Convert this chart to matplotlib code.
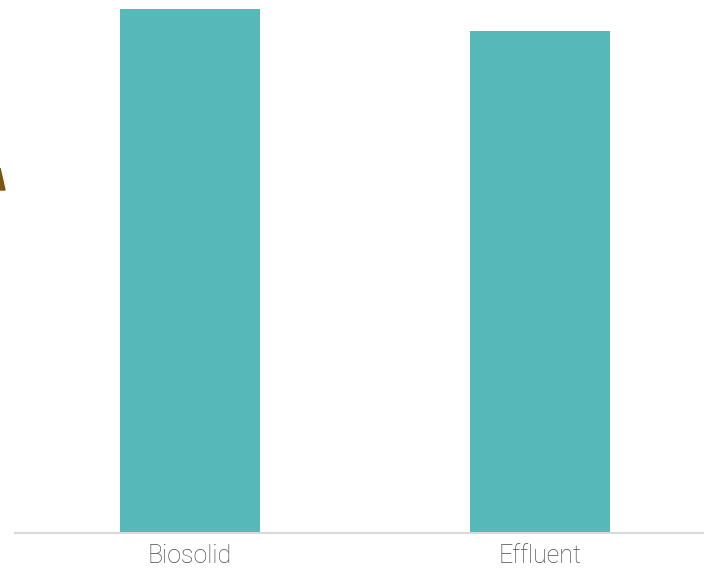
import matplotlib
matplotlib.use("Agg")
import matplotlib.pyplot as plt
from matplotlib.patches import Polygon

categories = ["Biosolid", "Effluent"]
values = [100.0, 95.8]

BAR = "#56B8B9"
TEXT = "#4A4A4A"

W, H = 704, 569
fig = plt.figure(figsize=(W / 100, H / 100), dpi=100)
# axes runs past the right edge: the original chart was cropped there
ax = fig.add_axes([15 / W, 36 / H, 700 / W, 533 / H])

x = range(len(categories))
ax.bar(x, values, width=0.4, color=BAR, zorder=2)
ax.set_xlim(-0.5, 1.5)
ax.set_ylim(0, 101.7)

ax.set_xticks(list(x))
ax.set_xticklabels(categories, fontsize=18, color=TEXT, family=["Roboto", "DejaVu Sans"],
                   fontweight="light")
ax.tick_params(axis="x", length=0, pad=8)
ax.set_yticks([])
for s in ("top", "right", "left"):
    ax.spines[s].set_visible(False)
ax.spines["bottom"].set_color("#D9D9D9")
ax.spines["bottom"].set_linewidth(1.5)

# sliver of a cropped-off glyph at the left edge
fig.patches.append(Polygon([[0, 1 - 190 / H], [5 / W, 1 - 190 / H], [0, 1 - 168 / H]],
                           closed=True, transform=fig.transFigure, color="#7A5410"))

fig.savefig("out.png", dpi=100)
